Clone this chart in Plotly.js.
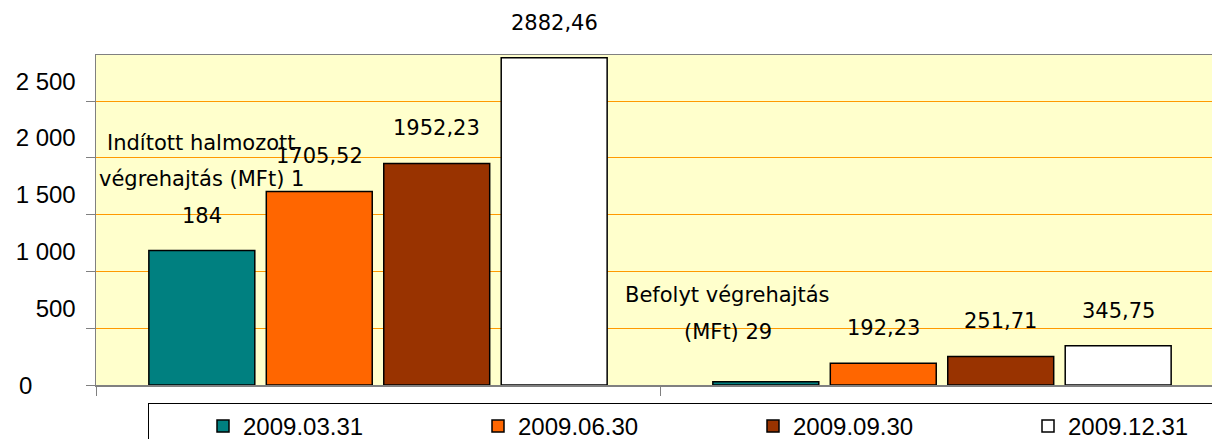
<!DOCTYPE html>
<html>
<head>
<meta charset="utf-8">
<script src="https://cdn.plot.ly/plotly-3.0.1.min.js"></script>
<style>
  html, body { margin: 0; padding: 0; background: #ffffff; overflow: hidden; }
  #chart { width: 1500px; height: 439px; }
</style>
</head>
<body>
<div id="chart"></div>
<script>
// ---- data ----
const categories = ['Indított halmozott végrehajtás (MFt)', 'Befolyt végrehajtás (MFt)'];
const seriesNames = ['2009.03.31', '2009.06.30', '2009.09.30', '2009.12.31'];
const values0331 = [1184, 29];
const values0630 = [1705.52, 192.23];
const values0930 = [1952.23, 251.71];
const values1231 = [2882.46, 345.75];
const tickValues = [0, 500, 1000, 1500, 2000, 2500];
const tickLabels = ['0', '500', '1 000', '1 500', '2 000', '2 500'];

// ---- styling ----
const seriesValues = [values0331, values0630, values0930, values1231];
const colors = ['#008080', '#FF6600', '#993300', '#FFFFFF'];
const bargap = 0.167, bargroupgap = 0.098;
const xPos = categories.map((c, i) => i);
const labelFont = {family: 'DejaVu Sans', size: 21, color: '#000000'};
const axisFont = {family: 'Liberation Sans', size: 24, color: '#000000'};

// The reference's plot area runs past the right edge of the picture:
// draw a wider figure (clipped by the window) keeping 564 px per category.
const figWidth = 1500, marginL = 96, pxPerCategory = 564;
const xMax = -0.5 + (figWidth - marginL) / pxPerCategory;

function fmtThousands(v) {
  return String(Math.round(v)).replace(/\B(?=(\d{3})+(?!\d))/g, ' ');
}
function fmtDec(v) { return v.toFixed(2).replace('.', ','); }
function wrap(text, maxChars) {
  const words = text.split(' ');
  const lines = [];
  let cur = '';
  words.forEach(w => {
    if (cur === '') cur = w;
    else if ((cur + ' ' + w).length <= maxChars) cur += ' ' + w;
    else { lines.push(cur); cur = w; }
  });
  if (cur) lines.push(cur);
  return lines;
}

const traces = seriesValues.map((vals, s) => ({
  type: 'bar',
  name: seriesNames[s],
  x: xPos,
  y: vals,
  marker: {color: colors[s], line: {color: '#000000', width: 1.5}},
  hoverinfo: 'skip'
}));

// data labels
const annotations = [];
const slot = (1 - bargap) / seriesValues.length;
const lineStep = 36.5;
const labelTweaks = {'0-1': {dx: -38, dy: 15}};
seriesValues.forEach((vals, s) => {
  vals.forEach((v, c) => {
    let lines;
    if (s === 0) lines = wrap(categories[c] + ' ' + fmtThousands(v), 20);
    else lines = [fmtDec(v)];
    const xc = xPos[c] - (1 - bargap) / 2 + (s + 0.5) * slot;
    const tw = labelTweaks[s + '-' + c] || {dx: 0, dy: 0};
    const n = lines.length;
    lines.forEach((ln, k) => {
      annotations.push({
        x: xc, y: v, xref: 'x', yref: 'y',
        text: ln, showarrow: false,
        xanchor: 'center', yanchor: 'middle',
        xshift: tw.dx,
        yshift: 35 + tw.dy + (n - 1 - k) * lineStep,
        font: labelFont
      });
    });
  });
});
// zero tick label (drawn further left in the reference)
annotations.push({
  x: -0.5, y: 0, xref: 'x', yref: 'y',
  text: tickLabels[0], showarrow: false,
  xanchor: 'center', yanchor: 'middle', xshift: -71,
  font: axisFont
});

const layout = {
  width: figWidth, height: 439,
  margin: {l: marginL, r: 0, t: 55, b: 54, autoexpand: false},
  paper_bgcolor: '#FFFFFF',
  plot_bgcolor: '#FFFFCC',
  barmode: 'group',
  bargap: bargap,
  bargroupgap: bargroupgap,
  showlegend: true,
  legend: {
    orientation: 'h',
    x: 52 / (figWidth - marginL), xanchor: 'left',
    y: -0.0545, yanchor: 'top',
    bgcolor: '#FFFFFF', bordercolor: '#000000', borderwidth: 1,
    font: {family: 'Liberation Sans', size: 24, color: '#000000'},
    entrywidth: 176, entrywidthmode: 'pixels',
    indentation: 54,
    traceorder: 'normal'
  },
  xaxis: {
    type: 'linear',
    range: [-0.5, xMax],
    showgrid: false, zeroline: false,
    showline: true, linecolor: '#808080', linewidth: 1.5, mirror: true,
    tickmode: 'array', tickvals: [-0.5, 0.5, 1.5],
    ticks: 'outside', ticklen: 9, tickcolor: '#808080', tickwidth: 1,
    showticklabels: false,
    fixedrange: true
  },
  yaxis: {
    range: [0, 2907],
    showgrid: true, gridcolor: '#FF9900', gridwidth: 1,
    zeroline: false,
    showline: true, linecolor: '#808080', linewidth: 1.5,
    tickmode: 'array', tickvals: tickValues,
    ticktext: tickLabels.map((t, i) => i === 0 ? '' : t),
    ticks: 'outside', ticklen: 9, tickcolor: '#808080', tickwidth: 1,
    ticklabelshift: -20, ticklabelstandoff: 5,
    tickfont: axisFont,
    fixedrange: true
  },
  annotations: annotations
};

Plotly.newPlot('chart', traces, layout, {displayModeBar: false, staticPlot: true});
</script>
</body>
</html>
